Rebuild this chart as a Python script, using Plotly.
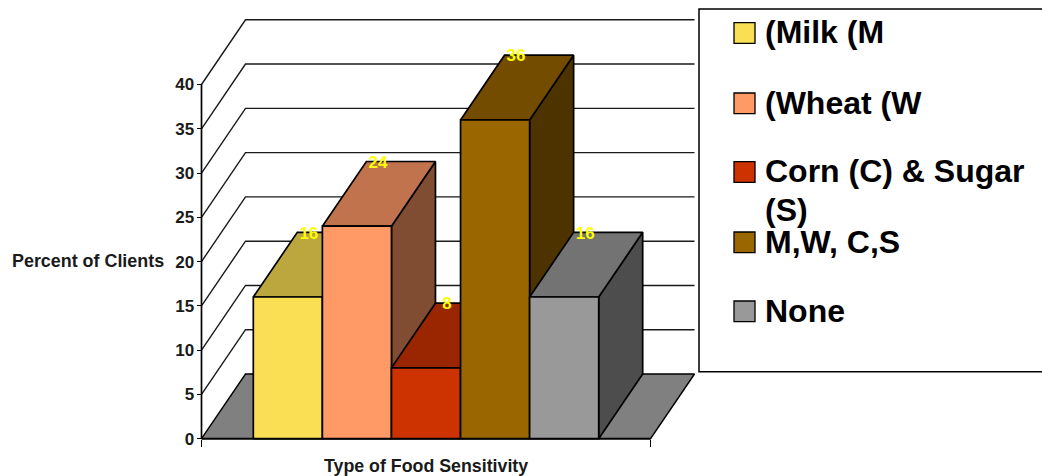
import plotly.graph_objects as go

# Survey results: one bar per sensitivity group
categories = ["(Milk (M", "(Wheat (W", "Corn (C) & Sugar<br>(S)", "M,W, C,S", "None"]
values = [16, 24, 8, 36, 16]
front_colors = ["#FADF55", "#FF9966", "#CC3300", "#996600", "#999999"]
top_colors = ["#BCA73F", "#C0734D", "#992600", "#734C00", "#737373"]
side_colors = ["#7D6F2A", "#804D33", "#661A00", "#4D3300", "#4D4D4D"]
y_ticks = [0, 5, 10, 15, 20, 25, 30, 35, 40]

W, H = 1042, 476
FONT = "Liberation Sans, Arial, sans-serif"

# Chart box in page pixels; the axes span the whole page at this scale
LEFT, RIGHT, TOP, BOTTOM = 201.5, 650.5, 84.5, 438.7
GAP = 0.75          # space beside the bar group, in bar widths
X_MAX = 2 * GAP + len(values)
PX_PER_BAR = (RIGHT - LEFT) / X_MAX
PX_PER_UNIT = (BOTTOM - TOP) / 40
DEPTH_X = 44 / PX_PER_BAR
DEPTH_Y = 64.7 / PX_PER_UNIT


def polygon(name, xs, ys, fill, line_width=1.7):
    return go.Scatter(
        x=xs + xs[:1], y=ys + ys[:1], mode="lines", fill="toself", name=name,
        fillcolor=fill, line=dict(color="black", width=line_width),
        showlegend=False, hoverinfo="skip",
    )


fig = go.Figure()

# Floor of the oblique box
fig.add_trace(polygon("floor",
                      [0, DEPTH_X, X_MAX + DEPTH_X, X_MAX],
                      [0, DEPTH_Y, DEPTH_Y, 0], "#808080", 1.4))

# Gridlines bend from the side wall onto the back wall
for tick in y_ticks[1:]:
    fig.add_trace(go.Scatter(
        x=[0, DEPTH_X, X_MAX + DEPTH_X],
        y=[tick, tick + DEPTH_Y, tick + DEPTH_Y],
        mode="lines", line=dict(color="#1a1a1a", width=1.4),
        showlegend=False, hoverinfo="skip",
    ))

# Axis lines stop at the chart box rather than the page edge
for xs, ys in (([0, 0], [0, y_ticks[-1]]), ([0, X_MAX], [0, 0])):
    fig.add_trace(go.Scatter(x=xs, y=ys, mode="lines",
                             line=dict(color="black", width=1.7),
                             showlegend=False, hoverinfo="skip"))

# Bars, painted left to right so nearer faces overlap earlier ones
for i, value in enumerate(values):
    x0, x1 = GAP + i, GAP + i + 1
    fig.add_trace(polygon("side",
                          [x1, x1 + DEPTH_X, x1 + DEPTH_X, x1],
                          [0, DEPTH_Y, value + DEPTH_Y, value], side_colors[i]))
    fig.add_trace(polygon("top",
                          [x0, x0 + DEPTH_X, x1 + DEPTH_X, x1],
                          [value, value + DEPTH_Y, value + DEPTH_Y, value], top_colors[i]))
    fig.add_trace(polygon(categories[i].replace("<br>", " "),
                          [x0, x1, x1, x0],
                          [0, 0, value, value], front_colors[i]))

# Value labels sit on the back edge of each bar top
LABEL_NUDGE_X = -1 / PX_PER_BAR
LABEL_NUDGE_Y = -2 / PX_PER_UNIT
fig.add_trace(go.Scatter(
    x=[GAP + i + 0.5 + DEPTH_X / 2 + LABEL_NUDGE_X for i in range(len(values))],
    y=[v + DEPTH_Y + LABEL_NUDGE_Y for v in values],
    text=[str(v) for v in values],
    mode="text", textposition="middle center",
    textfont=dict(family=FONT, size=17, color="#FFFF00", weight="bold"),
    showlegend=False, hoverinfo="skip",
))

annotations = [
    dict(text="<b>Percent of Clients</b>", x=88 / W, y=1 - 261 / H,
         font=dict(family=FONT, size=17.9, color="#1a1a1a")),
    dict(text="<b>Type of Food Sensitivity</b>", x=426 / W, y=1 - 466 / H,
         font=dict(family=FONT, size=17.8, color="#1a1a1a")),
]
shapes = [dict(type="rect", xref="paper", yref="paper",
               x0=699 / W, x1=1.01, y0=1 - 371.7 / H, y1=1 - 9 / H,
               line=dict(color="black", width=1.5), fillcolor="white")]

# Legend panel; a wrapped name keeps the panel's tighter line pitch
key_tops = [22.7, 93, 161.7, 232, 301]
LEGEND_LINE_PITCH = 39
for name, colour, key_top in zip(categories, front_colors, key_tops):
    shapes.append(dict(type="rect", xref="paper", yref="paper",
                       x0=734 / W, x1=755 / W,
                       y0=1 - (key_top + 20.7) / H, y1=1 - key_top / H,
                       line=dict(color="black", width=1.3), fillcolor=colour))
    for row, line in enumerate(name.split("<br>")):
        annotations.append(dict(
            text=f"<b>{line}</b>", x=764 / W,
            y=1 - (key_top - 9.5 + row * LEGEND_LINE_PITCH) / H,
            yanchor="top", xanchor="left", align="left",
            font=dict(family=FONT, size=32, color="black"),
        ))
for a in annotations:
    a.update(xref="paper", yref="paper", showarrow=False)
    a.setdefault("xanchor", "center")
    a.setdefault("yanchor", "middle")
    a.setdefault("borderpad", 0)

fig.update_layout(
    width=W, height=H, margin=dict(l=0, r=0, t=0, b=0, autoexpand=False),
    paper_bgcolor="white", plot_bgcolor="rgba(0,0,0,0)",
    showlegend=False, shapes=shapes, annotations=annotations,
    xaxis=dict(range=[-LEFT / PX_PER_BAR, (W - LEFT) / PX_PER_BAR],
               anchor="free", position=1 - BOTTOM / H,
               showgrid=False, zeroline=False, showline=False,
               tickmode="array", tickvals=[0, X_MAX], ticktext=["", ""],
               ticks="outside", ticklen=7, tickcolor="black", tickwidth=1.3),
    yaxis=dict(range=[-(H - BOTTOM) / PX_PER_UNIT, BOTTOM / PX_PER_UNIT],
               anchor="free", position=LEFT / W,
               showgrid=False, zeroline=False, showline=False,
               tickmode="array", tickvals=y_ticks,
               ticks="outside", ticklen=5, tickcolor="black", tickwidth=1.3,
               ticklabelstandoff=-1,
               tickfont=dict(family=FONT, size=17, color="#1a1a1a", weight="bold")),
)

fig.write_html("out.html", config=dict(displayModeBar=False))
